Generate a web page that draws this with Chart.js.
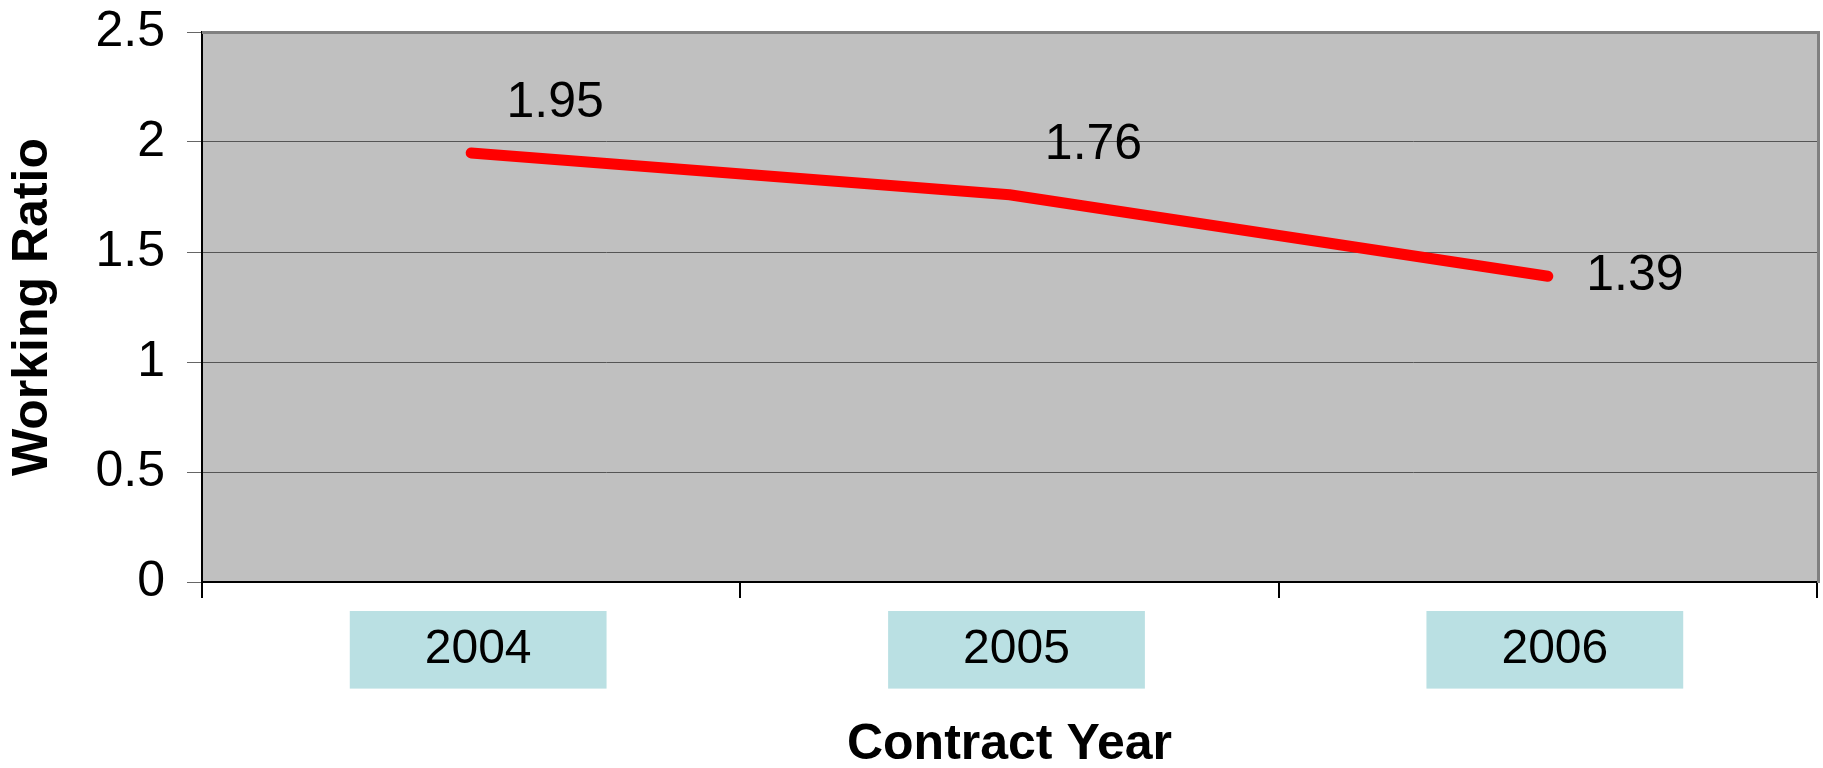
<!DOCTYPE html>
<html>
<head>
<meta charset="utf-8">
<script src="https://cdn.jsdelivr.net/npm/chart.js@4/dist/chart.umd.min.js"></script>
<style>
  html, body { margin: 0; padding: 0; background: #ffffff; }
  #wrap { width: 1823px; height: 768px; }
</style>
</head>
<body>
<div id="wrap"><canvas id="c" width="1823" height="768"></canvas></div>
<script>
const categories = ['2004', '2005', '2006'];
const workingRatio = [1.95, 1.76, 1.39];
const yTicks = [0, 0.5, 1, 1.5, 2, 2.5];
const xTitle = 'Contract Year';
const yTitle = 'Working Ratio';

const FONT = "'Liberation Sans', Arial, sans-serif";

const plotDecor = {
  id: 'plotDecor',
  beforeDraw(chart) {
    const {ctx, chartArea: a} = chart;
    ctx.save();
    ctx.fillStyle = '#C0C0C0';
    ctx.fillRect(a.left, a.top, a.right - a.left, a.bottom - a.top);
    ctx.restore();
  },
  afterDraw(chart) {
    const {ctx, chartArea: a} = chart;
    ctx.save();
    ctx.fillStyle = '#808080';
    ctx.fillRect(a.left, a.top - 1, a.right - a.left + 3, 3);
    ctx.fillRect(a.right, a.top - 1, 3, a.bottom - a.top + 2);
    ctx.restore();
  }
};

const valueLabels = {
  id: 'valueLabels',
  afterDatasetsDraw(chart) {
    const {ctx} = chart;
    const meta = chart.getDatasetMeta(0);
    const data = chart.data.datasets[0].data;
    ctx.save();
    ctx.font = '50px ' + FONT;
    ctx.fillStyle = '#000000';
    ctx.textAlign = 'center';
    ctx.textBaseline = 'middle';
    meta.data.forEach((pt, i) => {
      const last = i === meta.data.length - 1;
      const dx = last ? 87 : 84;
      const dy = last ? 0 : -50;
      ctx.fillText(data[i].toFixed(2), pt.x + dx, pt.y + dy);
    });
    ctx.restore();
  }
};

new Chart(document.getElementById('c'), {
  type: 'line',
  data: {
    labels: categories,
    datasets: [{
      data: workingRatio,
      borderColor: '#FF0000',
      backgroundColor: '#FF0000',
      borderWidth: 11,
      borderCapStyle: 'round',
      borderJoinStyle: 'round',
      pointRadius: 0,
      tension: 0,
      fill: false,
      clip: false
    }]
  },
  options: {
    responsive: false,
    animation: false,
    devicePixelRatio: 1,
    layout: { padding: { top: 32, right: 6, bottom: 0, left: 0 } },
    plugins: {
      legend: { display: false },
      tooltip: { enabled: false }
    },
    scales: {
      x: {
        type: 'category',
        offset: true,
        grid: {
          offset: true,
          drawOnChartArea: false,
          drawTicks: true,
          tickLength: 16,
          tickColor: '#000000',
          lineWidth: 2
        },
        border: { display: true, color: '#000000', width: 2 },
        ticks: {
          font: { family: FONT, size: 48 },
          color: '#000000',
          padding: 23,
          labelOffset: 7,
          maxRotation: 0,
          autoSkip: false,
          showLabelBackdrop: true,
          backdropColor: '#BAE0E3',
          backdropPadding: { top: 10, bottom: 10, left: 75, right: 75 }
        },
        title: {
          display: true,
          text: xTitle,
          color: '#000000',
          font: { family: FONT, size: 50, weight: 'bold', lineHeight: 0.9 },
          padding: { top: 0, bottom: 0 }
        },
        afterFit(scale) {
          scale.height = 186;
          scale.paddingLeft = 0;
          scale.paddingRight = 0;
        }
      },
      y: {
        min: 0,
        max: 2.5,
        afterBuildTicks(scale) { scale.ticks = yTicks.map(v => ({ value: v })); },
        grid: {
          color: '#555555',
          lineWidth: 1,
          drawTicks: true,
          tickLength: 15,
          tickColor: '#666666'
        },
        border: { display: true, color: '#000000', width: 2 },
        ticks: {
          font: { family: FONT, size: 50 },
          color: '#000000',
          padding: 22,
          callback: (v) => String(v)
        },
        title: {
          display: true,
          text: yTitle,
          color: '#000000',
          font: { family: FONT, size: 50, weight: 'bold', lineHeight: 1.2 },
          padding: { top: 3, bottom: 0 }
        },
        afterFit(scale) {
          scale.width = 202;
          scale.paddingTop = 0;
          scale.paddingBottom = 0;
        }
      }
    }
  },
  plugins: [plotDecor, valueLabels]
});
</script>
</body>
</html>
